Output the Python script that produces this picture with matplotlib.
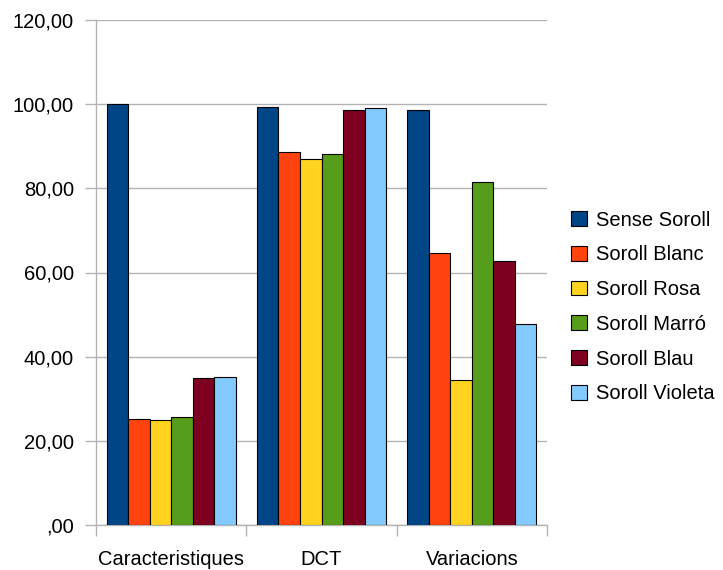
import matplotlib
matplotlib.use("Agg")
import matplotlib.pyplot as plt
import numpy as np
from matplotlib.ticker import FuncFormatter, FixedLocator

plt.rcParams['font.family'] = ['Liberation Sans', 'DejaVu Sans']

categories = ["Caracteristiques", "DCT", "Variacions"]
series_names = ["Sense Soroll", "Soroll Blanc", "Soroll Rosa",
                "Soroll Marró", "Soroll Blau", "Soroll Violeta"]
sense_soroll = [100.0, 99.3, 98.7]
soroll_blanc = [25.3, 88.7, 64.7]
soroll_rosa = [24.9, 87.0, 34.5]
soroll_marro = [25.6, 88.1, 81.6]
soroll_blau = [34.9, 98.5, 62.8]
soroll_violeta = [35.2, 99.0, 47.7]
series_values = [sense_soroll, soroll_blanc, soroll_rosa,
                 soroll_marro, soroll_blau, soroll_violeta]
colors = ["#004586", "#ff420e", "#ffd320", "#579d1c", "#7e0021", "#83caff"]

FS = 14.5
W, H = 723, 570
fig = plt.figure(figsize=(W / 100, H / 100), dpi=100)
ax = fig.add_axes([96 / W, 1 - 525 / H, (547 - 96) / W, (525 - 20) / H])

n = len(series_names)
group = 0.86
bw = group / n
x = np.arange(len(categories))
for i, (name, vals, c) in enumerate(zip(series_names, series_values, colors)):
    ax.bar(x - group / 2 + bw * (i + 0.5), vals, width=bw, color=c,
           edgecolor="black", linewidth=0.8, label=name, zorder=3)


def comma_fmt(v, pos):
    s = ("%.2f" % v).replace(".", ",")
    return s[1:] if s.startswith("0,") else s


ax.set_xlim(-0.5, len(categories) - 0.5)
ax.set_ylim(0, 120)
ax.set_yticks(np.arange(0, 121, 20))
ax.yaxis.set_major_formatter(FuncFormatter(comma_fmt))
ax.grid(axis="y", color="#b3b3b3", linewidth=1, zorder=0)

ax.set_xticks(x)
ax.set_xticklabels(categories)
ax.xaxis.set_minor_locator(FixedLocator(np.arange(-0.5, len(categories), 1.0)))
ax.tick_params(axis="x", which="major", length=0, pad=18, labelsize=FS)
ax.tick_params(axis="x", which="minor", length=8, color="#b3b3b3", width=1)
ax.tick_params(axis="y", length=8, color="#b3b3b3", width=1, labelsize=FS, pad=8)

for s in ["top", "right"]:
    ax.spines[s].set_visible(False)
for s in ["left", "bottom"]:
    ax.spines[s].set_color("#b3b3b3")
    ax.spines[s].set_linewidth(1)

fig.legend(loc="center left", bbox_to_anchor=(571 / W, 1 - 307 / H),
           frameon=False, fontsize=FS, handlelength=0.8, handleheight=0.75,
           handletextpad=0.45, labelspacing=0.78, borderaxespad=0,
           borderpad=0)

fig.savefig("out.png", dpi=100)
